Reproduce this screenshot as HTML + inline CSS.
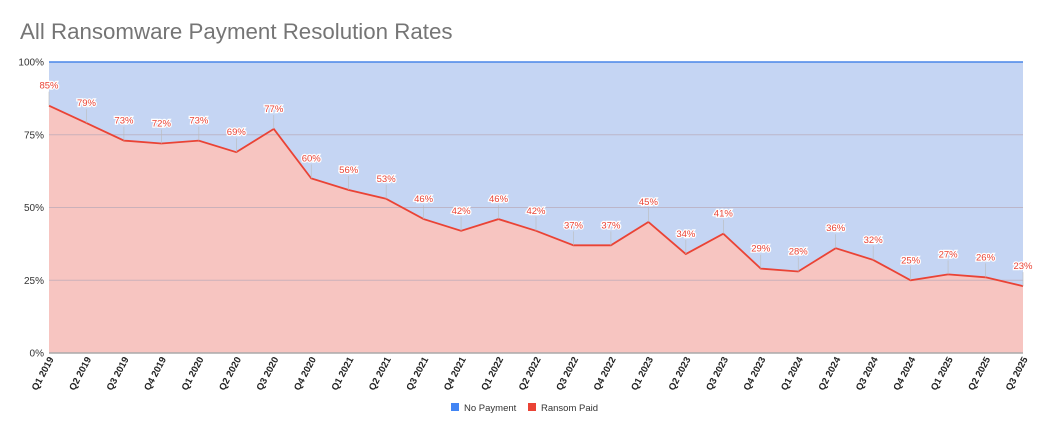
<!DOCTYPE html>
<html><head><meta charset="utf-8"><style>
body{margin:0;background:#fff;width:1043px;height:430px;overflow:hidden}
svg text{font-family:"Liberation Sans",sans-serif}
</style></head><body>
<svg width="1043" height="430" viewBox="0 0 1043 430" xmlns="http://www.w3.org/2000/svg">
<text x="20" y="39" font-size="22.3" fill="#757575">All Ransomware Payment Resolution Rates</text>
<g id="chart"></g>
</svg>
<script>
const v=[85,79,73,72,73,69,77,60,56,53,46,42,46,42,37,37,45,34,41,29,28,36,32,25,27,26,23];
const q=[];for(let y=2019;y<=2025;y++)for(let i=1;i<=4;i++){if(q.length<27)q.push('Q'+i+' '+y);}
const L=49,R=1023,T=62,B=353,H=B-T,dx=(R-L)/26;
const X=i=>L+i*dx,Y=p=>B-p/100*H;
let s=`<rect x="${L}" y="${T}" width="${R-L}" height="${H}" fill="#c5d5f3"/>`;
let pts=v.map((p,i)=>X(i).toFixed(1)+','+Y(p).toFixed(1)).join(' ');
s+=`<polygon points="${L},${B} ${pts} ${R},${B}" fill="#f7c5c1"/>`;
[25,50,75].forEach(p=>s+=`<line x1="${L}" x2="${R}" y1="${Y(p)}" y2="${Y(p)}" stroke="#b9a9b8" stroke-width="1" opacity="0.7"/>`);
s+=`<line x1="${L}" x2="${R}" y1="${T}" y2="${T}" stroke="#4a86e8" stroke-width="1.5"/>`;
s+=`<line x1="${L}" x2="${R}" y1="${B}" y2="${B}" stroke="#aaa" stroke-width="1.5"/>`;
s+=`<polyline points="${pts}" fill="none" stroke="#ea4335" stroke-width="1.8"/>`;
[0,25,50,75,100].forEach(p=>s+=`<text x="${L-5}" y="${Y(p)+3.5}" font-size="10" text-anchor="end" fill="#333">${p}%</text>`);
v.forEach((p,i)=>{const x=X(i),y=Y(p);
 s+=`<line x1="${x}" x2="${x}" y1="${y-14}" y2="${y}" stroke="#bbb" stroke-width="0.6"/>`;
 s+=`<text x="${x}" y="${y-17}" font-size="9.5" text-anchor="middle" fill="#ea4335" stroke="#fff" stroke-width="2.5" paint-order="stroke">${p}%</text>`;
 s+=`<text transform="translate(${x+5},${B+6}) rotate(-62)" font-size="9.5" font-weight="bold" text-anchor="end" fill="#222">${q[i]}</text>`;
});
s+=`<rect x="451" y="403" width="8" height="8" fill="#4285f4"/><text x="464" y="411" font-size="9.5" fill="#333">No Payment</text>`;
s+=`<rect x="528" y="403" width="8" height="8" fill="#ea4335"/><text x="541" y="411" font-size="9.5" fill="#333">Ransom Paid</text>`;
document.getElementById('chart').innerHTML=s;
</script>
</body></html>
